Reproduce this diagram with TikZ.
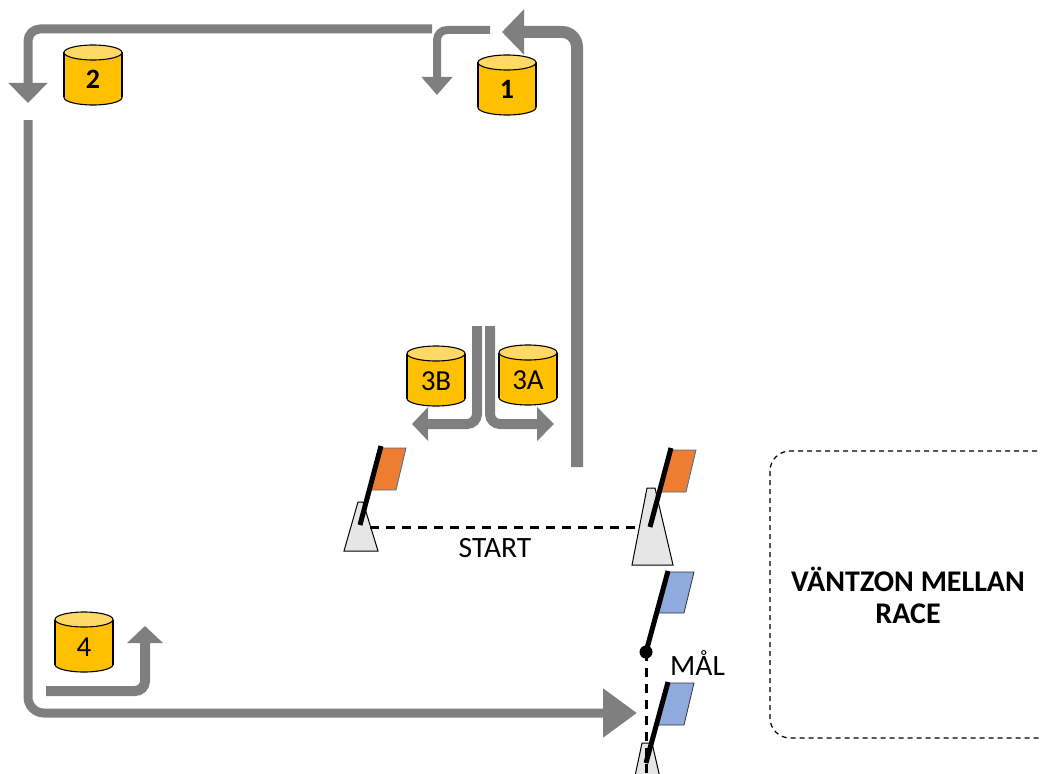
\documentclass[tikz,border=0pt]{standalone}
\usepackage{fontspec}
\setmainfont{Carlito}
\usetikzlibrary{arrows.meta,fadings}
\definecolor{arrowgray}{HTML}{7F7F7F}
\definecolor{arrowlight}{HTML}{A8A8A8}
\definecolor{cylfill}{HTML}{FFC000}
\definecolor{cyltop}{HTML}{FFD966}
\definecolor{conefill}{HTML}{E7E6E6}
\definecolor{orangeflag}{HTML}{ED7D31}
\definecolor{blueflag}{HTML}{8FAADC}
\definecolor{flagedge}{HTML}{41719C}
\tikzfading[name=midfade, left color=transparent!100, middle color=transparent!0, right color=transparent!100]
\newcommand\mycyl[5]{% name, cx, top, label, font
  \begin{scope}[shift={(#2,#3)}]
    \filldraw[fill=cylfill, draw=black, line width=1.1pt] (0,52.5) ellipse [x radius=29pt, y radius=7.5pt];
    \fill[cylfill] (-29,7.5) rectangle (29,52.5);
    \draw[line width=1.1pt] (-29,7.5) -- (-29,52.5) (29,7.5) -- (29,52.5);
    \filldraw[fill=cyltop, draw=black, line width=1.1pt] (0,7.5) ellipse [x radius=29pt, y radius=7.5pt];
    \node[anchor=base, font=#5, inner sep=0pt] (#1) at (0,44) {#4};
  \end{scope}}
\tikzset{
  pathline/.style={draw=arrowgray, line width=#1, rounded corners=12pt},
  sheen/.style={draw=arrowlight, path fading=midfade, fading angle=#1},
  conestyle/.style={fill=conefill, draw=black, line width=1pt},
  pole/.style={line width=5pt, black},
  oflag/.style={fill=orangeflag, draw=flagedge, line width=0.8pt},
  bflag/.style={fill=blueflag, draw=black!80, line width=0.8pt},
  finishline/.style={line width=3pt, dash pattern=on 9pt off 7pt},
}
\begin{document}
\begin{tikzpicture}[x=1pt,y=-1pt]
\useasboundingbox (0,0) rectangle (1040,773);
\begin{scope}
\clip (0,0) rectangle (1040,773);

% waiting zone
\draw[line width=1.2pt, dash pattern=on 5pt off 4pt, rounded corners=20pt] (770,451) rectangle (1058,738);
\node[font=\bfseries\fontsize{30}{32}\selectfont, align=center, anchor=base] (wz) at (908,623) {VÄNTZON MELLAN\\RACE};

% route arrows
\coordinate (a1) at (577,467);
\coordinate (a2) at (577,32);
\coordinate (a3) at (502,32);
\draw[pathline=12pt, rounded corners=15pt, -{Triangle[width=44pt,length=22pt]}] (a1) -- (a2) -- (a3);
\draw[pathline=12pt, sheen=90, rounded corners=15pt] (a1) -- (a2);

\coordinate (c1) at (490,30);
\coordinate (c2) at (437,30);
\coordinate (c3) at (437,95);
\draw[pathline=8pt, rounded corners=10pt, -{Triangle[width=30pt,length=18pt]}] (c1) -- (c2) -- (c3);
\draw[pathline=8pt, sheen=45, rounded corners=10pt] (c1) -- (c2) -- (437,75);

\coordinate (b1) at (432,29);
\coordinate (b2) at (28,29);
\coordinate (b3) at (28,103);
\draw[pathline=9pt, rounded corners=12pt, -{Triangle[width=38pt,length=20pt]}] (b1) -- (b2) -- (b3);
\draw[pathline=9pt, sheen=0] (b1) -- (40,29);

\coordinate (d1) at (28,120);
\coordinate (d2) at (28,713);
\coordinate (d3) at (637,713);
\draw[pathline=9pt, rounded corners=16pt, -{Triangle[width=47pt,length=34pt]}] (d1) -- (d2) -- (d3);

\coordinate (e1) at (46,691);
\coordinate (e2) at (145,691);
\coordinate (e3) at (145,626);
\draw[pathline=10pt, rounded corners=10pt, -{Triangle[width=35pt,length=17pt]}] (e1) -- (e2) -- (e3);
\draw[pathline=10pt, sheen=0] (e1) -- (138,691);

\coordinate (f1) at (477,326);
\coordinate (f2) at (477,424);
\coordinate (f3) at (412,424);
\draw[pathline=10pt, rounded corners=10pt, -{Triangle[width=33pt,length=16pt]}] (f1) -- (f2) -- (f3);
\draw[pathline=10pt, sheen=90] (f1) -- (477,415);

\coordinate (g1) at (490,326);
\coordinate (g2) at (490,424);
\coordinate (g3) at (554,424);
\draw[pathline=10pt, rounded corners=10pt, -{Triangle[width=33pt,length=17pt]}] (g1) -- (g2) -- (g3);
\draw[pathline=10pt, sheen=90] (g1) -- (490,415);

% cylinders
\mycyl{cyl1}{507}{55}{1}{\bfseries\fontsize{28}{30}\selectfont}
\mycyl{cyl2}{93}{45}{2}{\bfseries\fontsize{28}{30}\selectfont}
\mycyl{cyl3b}{436}{346}{3B}{\fontsize{29}{30}\selectfont}
\mycyl{cyl3a}{528}{345}{3A}{\fontsize{29}{30}\selectfont}
\mycyl{cyl4}{84}{612}{4}{\fontsize{29}{30}\selectfont}

% start gates
\draw[conestyle] (358,502) -- (363,502) -- (378,551) -- (344,551) -- cycle;
\draw[conestyle] (647,488) -- (655,488) -- (673,565) -- (632,565) -- cycle;
\coordinate (sl) at (370,527);
\coordinate (sr) at (642,527);
\draw[finishline] (sl) -- (sr);
\draw[oflag] (380,448) -- (406,448) -- (396,490) -- (369,490) -- cycle;
\draw[pole] (360,525) -- (381,446);
\draw[oflag] (670,450) -- (696,450) -- (686,492) -- (659,492) -- cycle;
\draw[pole] (650,527) -- (671,448);
\node[font=\fontsize{29.5}{30}\selectfont, anchor=base] (start) at (495,557) {START};

% finish
\draw[conestyle] (642,743) -- (652,743) -- (664,795) -- (631,795) -- cycle;
\coordinate (fd) at (646,652);
\coordinate (fe) at (646,775);
\draw[finishline] (fd) -- (fe);
\draw[bflag] (668,572) -- (694,572) -- (684,613) -- (657,613) -- cycle;
\draw[pole] (fd) -- (668,571);
\fill (fd) circle (6.5pt);
\draw[bflag] (668,683) -- (694,683) -- (684,725) -- (657,725) -- cycle;
\draw[pole] (646,763) -- (668,682);
\node[font=\fontsize{29.5}{30}\selectfont, anchor=base west, inner sep=0pt] (mal) at (670,675) {MÅL};
\end{scope}
\end{tikzpicture}
\end{document}
